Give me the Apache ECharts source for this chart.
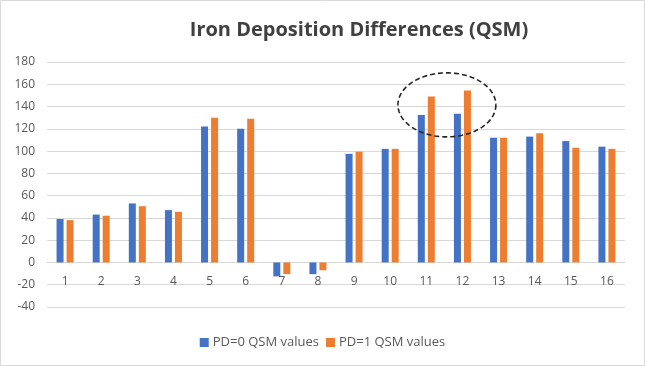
<!DOCTYPE html>
<html><head><meta charset="utf-8">
<script src="https://cdn.jsdelivr.net/npm/echarts@6/dist/echarts.min.js"></script>
<style>html,body{margin:0;padding:0;background:#fff}#c{width:645px;height:366px}</style>
</head><body><div id="c"></div>
<script>
const categories = ['1','2','3','4','5','6','7','8','9','10','11','12','13','14','15','16'];
const pd0 = [39, 43, 53, 47, 122, 120, -12.5, -10.5, 97.5, 102, 132.5, 133.5, 112, 113, 109, 104];
const pd1 = [38, 42, 50.5, 45.5, 130, 129, -10.5, -7, 99.5, 102, 149, 154.5, 112, 116, 103, 102];
const seriesNames = ['PD=0 QSM values', 'PD=1 QSM values'];
const yTicks = {min: -40, max: 180, interval: 20};

const chart = echarts.init(document.getElementById('c'));
const font = 'Open Sans, Roboto, sans-serif';
const gridTop = 62, gridBottom = 59, H = 366;
const zeroOffset = -(H - gridTop - gridBottom) * (0 - yTicks.min) / (yTicks.max - yTicks.min);
chart.setOption({
  animation: false,
  title: {
    text: 'Iron Deposition Differences (QSM)',
    left: 354, top: 15, textAlign: 'center',
    textStyle: {fontFamily: font, fontSize: 20, fontWeight: 'bold', color: '#404040'}
  },
  legend: {
    data: seriesNames, top: 331, left: 'center', icon: 'rect',
    itemWidth: 9, itemHeight: 9, itemGap: 7,
    textStyle: {fontFamily: font, fontSize: 13, color: '#595959', padding: [0, 0, 0, -1]}
  },
  grid: {left: 47, right: 20, top: gridTop, bottom: gridBottom},
  xAxis: {
    type: 'category', data: categories,
    offset: zeroOffset,
    axisLine: {onZero: false, lineStyle: {color: '#d9d9d9'}},
    axisTick: {show: false},
    axisLabel: {fontFamily: font, fontSize: 12, color: '#595959', margin: 13}
  },
  yAxis: {
    type: 'value', min: yTicks.min, max: yTicks.max, interval: yTicks.interval,
    axisLine: {show: false}, axisTick: {show: false},
    axisLabel: {fontFamily: font, fontSize: 12, color: '#595959', margin: 12},
    splitLine: {lineStyle: {color: '#d9d9d9'}}
  },
  series: [
    {name: seriesNames[0], type: 'bar', data: pd0, barWidth: 7, barGap: '43%', itemStyle: {color: '#4472c4'}},
    {name: seriesNames[1], type: 'bar', data: pd1, barWidth: 7, barGap: '43%', itemStyle: {color: '#ed7d31'}}
  ]
});
// annotation ellipse around categories 11-12
const p11 = chart.convertToPixel({xAxisIndex: 0, yAxisIndex: 0}, [10, 141.5]);
const p12 = chart.convertToPixel({xAxisIndex: 0, yAxisIndex: 0}, [11, 141.5]);
const cx = p11[0] + 0.57 * (p12[0] - p11[0]), cy = p11[1];
const pts = [];
for (let i = 0; i <= 90; i++) {
  const a = i / 90 * Math.PI * 2;
  pts.push([cx + 49 * Math.cos(a), cy + 32 * Math.sin(a)]);
}
chart.setOption({
  graphic: [
    {type: 'polyline', shape: {points: pts}, style: {stroke: '#262626', lineWidth: 1.6, lineDash: [5, 3], fill: null}, z: 100},
    {type: 'rect', shape: {x: 0.5, y: 0.5, width: 644, height: 365}, style: {stroke: '#d9d9d9', fill: null, lineWidth: 1}, z: 0}
  ]
});
</script></body></html>
